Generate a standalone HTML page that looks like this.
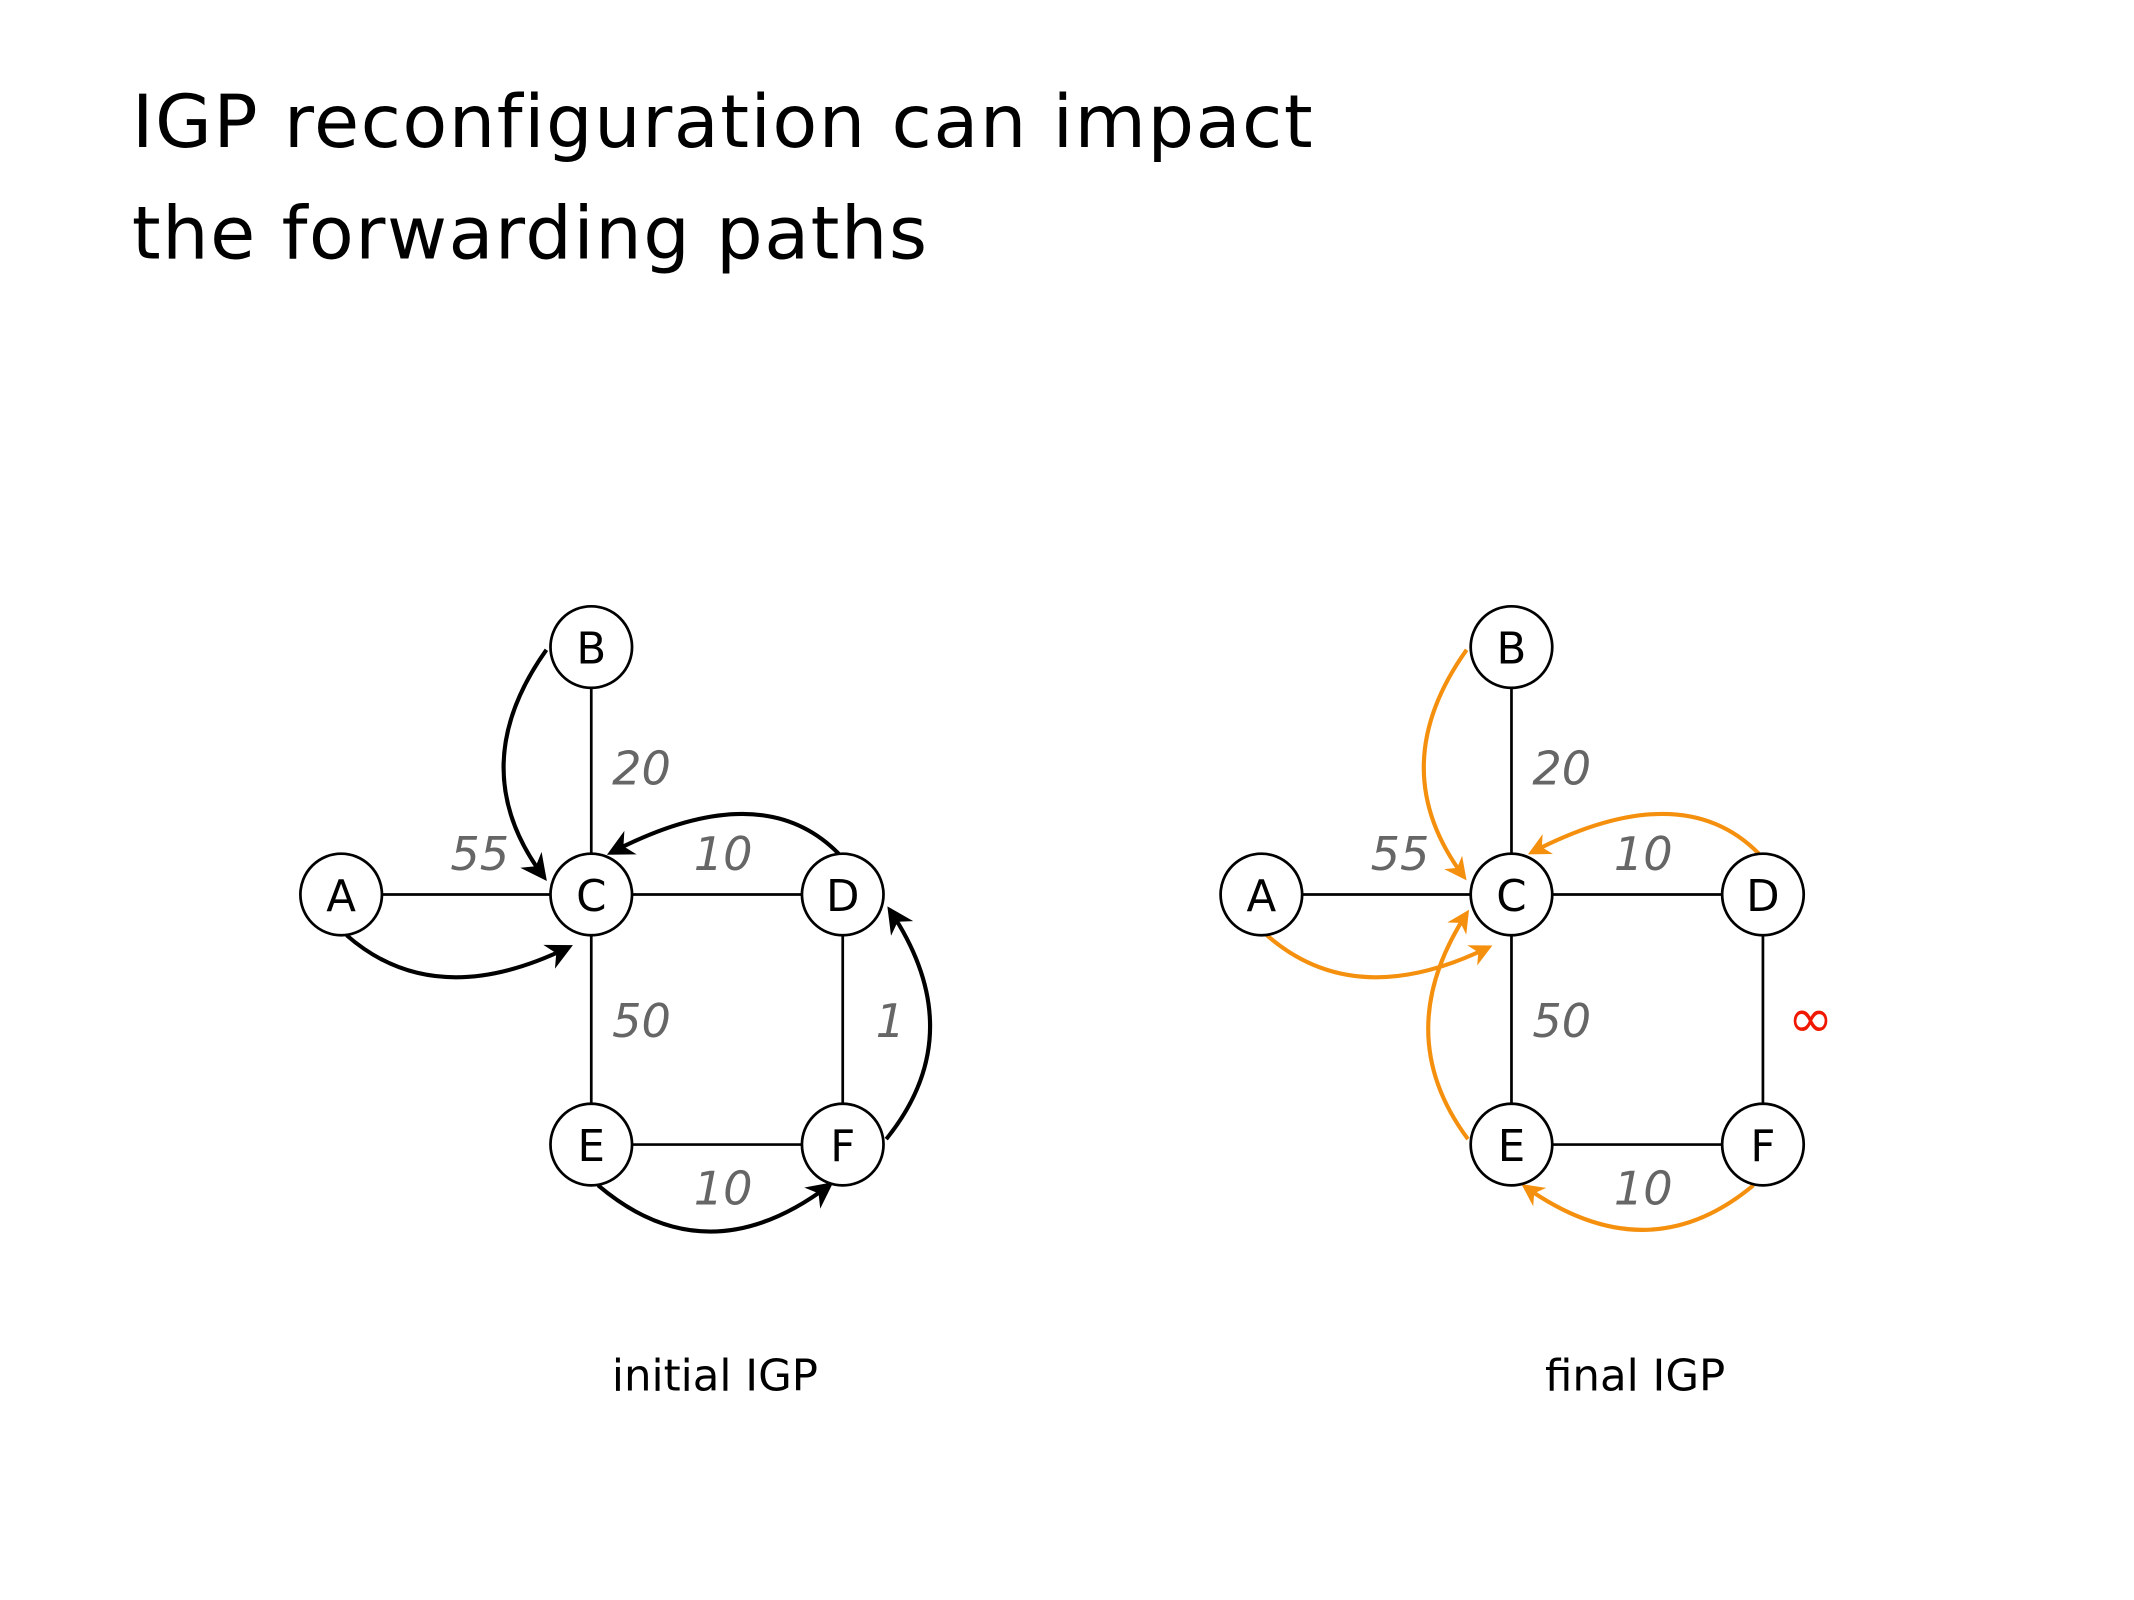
<!DOCTYPE html>
<html><head><meta charset="utf-8"><style>
html,body{margin:0;padding:0;background:#fff;}
svg{display:block;}
</style></head><body>
<svg width="2134" height="1600" viewBox="0 0 1570 1177" xmlns="http://www.w3.org/2000/svg" font-family="'DejaVu Sans','Liberation Sans',sans-serif">
<defs>
<marker id="ak" viewBox="0 0 10 10" refX="8" refY="5" markerWidth="6.5" markerHeight="6.5" orient="auto" markerUnits="strokeWidth"><path d="M0,0 L10,5 L0,10 L3,5 z" fill="#000"/></marker>
<marker id="ao" viewBox="0 0 10 10" refX="8" refY="5" markerWidth="5.5" markerHeight="5.5" orient="auto" markerUnits="strokeWidth"><path d="M0,0 L10,5 L0,10 L3,5 z" fill="#f5900e"/></marker>
</defs>
<text x="97" y="108" font-size="54" letter-spacing="1.1">IGP reconfiguration can impact</text>
<text x="97" y="190" font-size="54" letter-spacing="1.1">the forwarding paths</text>

<g stroke="#000" stroke-width="2" fill="none">
<line x1="251" y1="658" x2="620" y2="658"/><line x1="435" y1="476" x2="435" y2="842"/>
<line x1="435" y1="842" x2="620" y2="842"/><line x1="620" y1="658" x2="620" y2="842"/>
</g>
<g stroke="#000" stroke-width="3" fill="none" marker-end="url(#ak)">
<path d="M402,478 Q340,565 400,645"/>
<path d="M617,628 Q560,570 450,627"/>
<path d="M255,688 Q320,745 418,697"/>
<path d="M440,872 Q520,940 610,872"/>
<path d="M652,838 Q715,760 655,670"/>
</g>
<g stroke="#000" stroke-width="2" fill="#fff">
<circle cx="251" cy="658" r="30"/><circle cx="435" cy="476" r="30"/><circle cx="435" cy="658" r="30"/>
<circle cx="620" cy="658" r="30"/><circle cx="435" cy="842" r="30"/><circle cx="620" cy="842" r="30"/>
</g>
<g font-size="32" text-anchor="middle" fill="#000">
<text x="251" y="670">A</text><text x="435" y="488">B</text><text x="435" y="670">C</text>
<text x="620" y="670">D</text><text x="435" y="854">E</text><text x="620" y="854">F</text>
</g>
<g font-size="34" font-style="italic" fill="#666" text-anchor="middle">
<text x="472" y="577">20</text><text x="353" y="640">55</text><text x="532" y="640">10</text>
<text x="472" y="763">50</text><text x="655" y="763">1</text><text x="532" y="886">10</text>
</g>

<g transform="translate(2,0)">
<g stroke="#000" stroke-width="2" fill="none">
<line x1="926" y1="658" x2="1295" y2="658"/><line x1="1110" y1="476" x2="1110" y2="842"/>
<line x1="1110" y1="842" x2="1295" y2="842"/><line x1="1295" y1="658" x2="1295" y2="842"/>
</g>
<g stroke="#f5900e" stroke-width="3" fill="none" marker-end="url(#ao)">
<path d="M1077,478 Q1015,565 1075,645"/>
<path d="M1292,628 Q1235,570 1125,627"/>
<path d="M930,688 Q995,745 1093,697"/>
<path d="M1078,838 Q1020,760 1077,672"/>
<path d="M1288,872 Q1210,937 1120,873"/>
</g>
<g stroke="#000" stroke-width="2" fill="#fff">
<circle cx="926" cy="658" r="30"/><circle cx="1110" cy="476" r="30"/><circle cx="1110" cy="658" r="30"/>
<circle cx="1295" cy="658" r="30"/><circle cx="1110" cy="842" r="30"/><circle cx="1295" cy="842" r="30"/>
</g>
<g font-size="32" text-anchor="middle" fill="#000">
<text x="926" y="670">A</text><text x="1110" y="488">B</text><text x="1110" y="670">C</text>
<text x="1295" y="670">D</text><text x="1110" y="854">E</text><text x="1295" y="854">F</text>
</g>
<g font-size="34" font-style="italic" fill="#666" text-anchor="middle">
<text x="1147" y="577">20</text><text x="1028" y="640">55</text><text x="1207" y="640">10</text>
<text x="1147" y="763">50</text><text x="1207" y="886">10</text>
</g>
<text x="1330" y="763" font-size="40" font-style="italic" fill="#f01800" text-anchor="middle">∞</text>
</g>
<text x="526" y="1023" font-size="32" text-anchor="middle">initial IGP</text>
<text x="1203" y="1023" font-size="32" text-anchor="middle">final IGP</text>
</svg>
</body></html>
